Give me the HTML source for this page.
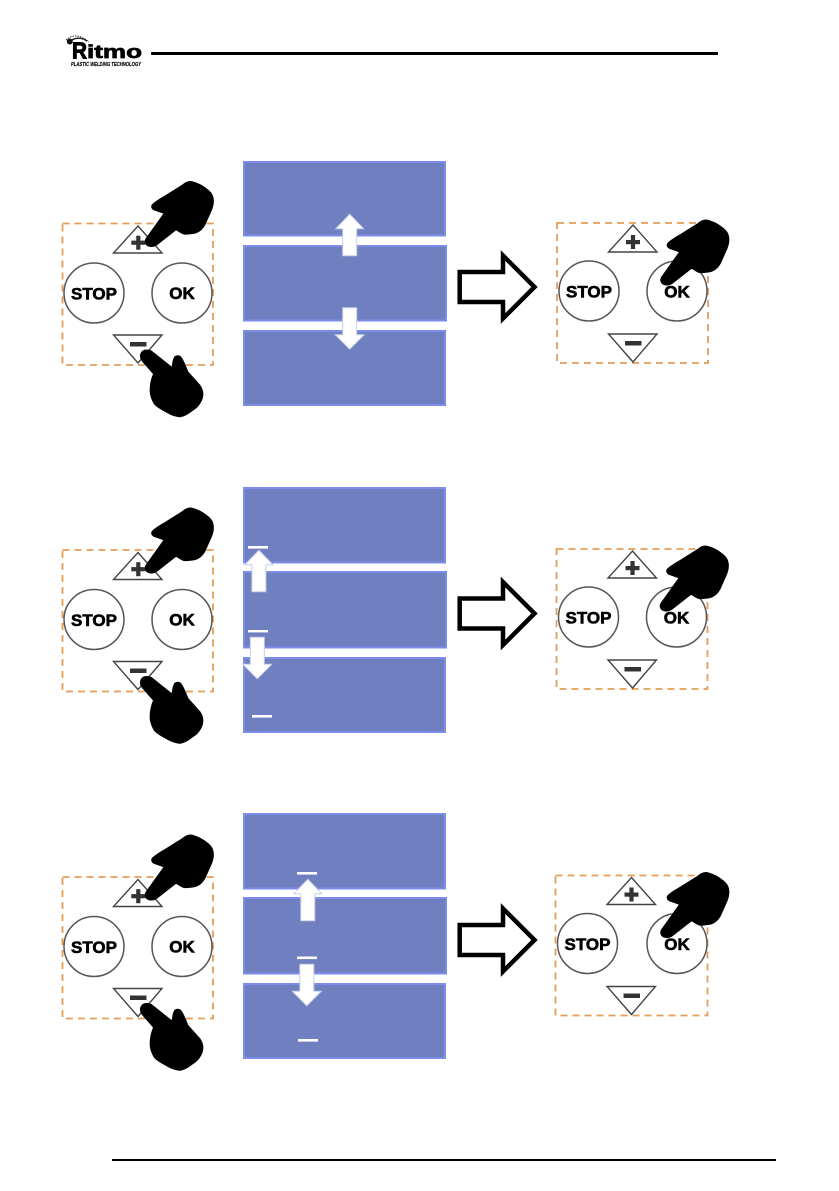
<!DOCTYPE html>
<html>
<head>
<meta charset="utf-8">
<style>
html,body{margin:0;padding:0;background:#fff}
svg{display:block;filter:blur(.3px)}
text{font-family:"Liberation Sans",sans-serif;font-weight:bold}
</style>
</head>
<body>
<svg width="839" height="1191" viewBox="0 0 839 1191" xmlns="http://www.w3.org/2000/svg">
<defs>
<path id="hT" transform="translate(140 175) scale(.3333)" d="M17 190L70 116L42 106C34 102 31 95 36 88C48 76 68 66 85 55L125 30C135 22 142 18 152 18C165 20 178 26 188 32C200 40 212 48 218 60C224 75 222 90 216 105L196 150C188 164 178 172 165 176C152 178 140 180 130 178C122 175 116 170 108 166L52 210C42 218 28 218 19 211C13 204 13 197 17 190Z"/>
<path id="hB" transform="translate(135 340) scale(.3333)" d="M15 46C17 30 32 24 50 32L110 80C112 70 112 60 118 50C124 44 134 44 140 52C148 64 154 80 160 95L196 135C204 147 207 160 204 172C200 188 190 202 174 212C162 221 150 230 135 232C120 230 108 226 98 220C83 212 68 204 58 194C50 182 44 166 44 152C44 132 48 116 54 102L26 70C18 62 14 54 15 46Z"/>
<path id="hO" transform="translate(655.5 213.5) scale(.3333)" d="M17 190L70 116L42 106C34 102 31 95 36 88C48 76 68 66 85 55L125 30C135 22 142 18 152 18C165 20 178 26 188 32C200 40 212 48 218 60C224 75 222 90 216 105L196 150C188 164 178 172 165 176C152 178 140 180 130 178C122 175 116 170 108 166L52 210C42 218 28 218 19 211C13 204 13 197 17 190Z"/>
<polygon id="au" points="0,-41.5 14,-27 7,-27 7,0 -7,0 -7,-27 -14,-27" fill="#fff" stroke="#c6cfe8" stroke-width="1"/>
<polygon id="ad" points="0,41.5 14.5,27 7,27 7,0 -7,0 -7,27 -14.5,27" fill="#fff" stroke="#c6cfe8" stroke-width="1"/>
</defs>

<!-- header -->
<rect x="151" y="52" width="567" height="3" fill="#000"/>
<path d="M66 40Q76 31 89 42" fill="none" stroke="#333" stroke-width="1" stroke-dasharray="1.5 1"/>
<path d="M72 40Q79 36 87 41" fill="none" stroke="#222" stroke-width="1.4"/>
<circle cx="69.8" cy="41.5" r="3" fill="#111"/>
<text x="72" y="58.3" font-size="23" textLength="15" lengthAdjust="spacingAndGlyphs" stroke="#000" stroke-width="1" fill="#000">R</text>
<text x="87" y="58" font-size="18" textLength="55" lengthAdjust="spacingAndGlyphs" stroke="#000" stroke-width=".7" fill="#000">itmo</text>
<text x="71" y="66" font-size="5.6" font-style="italic" textLength="70" lengthAdjust="spacingAndGlyphs" fill="#111" stroke="#111" stroke-width=".2">PLASTIC WELDING TECHNOLOGY</text>

<!-- footer -->
<rect x="112" y="1159" width="664" height="2" fill="#000"/>

<!-- ROW 1 -->
<g>
<rect x="62.5" y="223.5" width="150.5" height="141.5" fill="none" stroke="#e59d58" stroke-width="1.8" stroke-dasharray="7 5"/>
<polygon points="138,226 162,253 113.5,253" fill="#fff" stroke="#444" stroke-width="1.4"/>
<rect x="131.3" y="240.6" width="14" height="4.2" fill="#333"/><rect x="136.2" y="235.7" width="4.2" height="14" fill="#333"/>
<circle cx="94" cy="293" r="30" fill="#fff" stroke="#555" stroke-width="1.5"/>
<circle cx="182" cy="293" r="30" fill="#fff" stroke="#555" stroke-width="1.5"/>
<text x="94" y="299.3" font-size="17" text-anchor="middle" fill="#000" stroke="#000" stroke-width=".6">STOP</text>
<text x="182" y="299" font-size="17" text-anchor="middle" fill="#000" stroke="#000" stroke-width=".6">OK</text>
<polygon points="113.5,335 162,335 138,363" fill="#fff" stroke="#444" stroke-width="1.4"/>
<rect x="130" y="342" width="16.5" height="4.5" fill="#333"/>
<use href="#hT"/><use href="#hB"/>
</g>
<g>
<rect x="557" y="223" width="151" height="140" fill="none" stroke="#e59d58" stroke-width="1.8" stroke-dasharray="7 5"/>
<polygon points="633,225 657,252 608.5,252" fill="#fff" stroke="#444" stroke-width="1.4"/>
<rect x="626" y="240" width="14" height="4.2" fill="#333"/><rect x="630.9" y="235" width="4.2" height="14" fill="#333"/>
<circle cx="589" cy="291" r="30" fill="#fff" stroke="#555" stroke-width="1.5"/>
<circle cx="677" cy="291" r="30" fill="#fff" stroke="#555" stroke-width="1.5"/>
<text x="589" y="297.5" font-size="17" text-anchor="middle" fill="#000" stroke="#000" stroke-width=".6">STOP</text>
<text x="677" y="297.5" font-size="17" text-anchor="middle" fill="#000" stroke="#000" stroke-width=".6">OK</text>
<polygon points="608.5,334 657,334 633,362" fill="#fff" stroke="#444" stroke-width="1.4"/>
<rect x="625" y="341" width="16.5" height="4.5" fill="#333"/>
<use href="#hO"/>
</g>
<g fill="#707fbf" stroke="#7b8ceb" stroke-width="2">
<rect x="244" y="162" width="201" height="73.5"/>
<rect x="244" y="246" width="202" height="74.5"/>
<rect x="244" y="331" width="201" height="74"/>
</g>
<use href="#au" x="349.7" y="255.7"/>
<use href="#ad" x="349.7" y="307.7"/>
<polygon points="459.7,272 503,272 503,255.5 534.5,287 503,318.5 503,302 459.7,302" fill="#fff" stroke="#000" stroke-width="4.5"/>

<!-- ROW 2 -->
<g transform="translate(0 326.5)">
<rect x="62.5" y="223.5" width="150.5" height="141.5" fill="none" stroke="#e59d58" stroke-width="1.8" stroke-dasharray="7 5"/>
<polygon points="138,226 162,253 113.5,253" fill="#fff" stroke="#444" stroke-width="1.4"/>
<rect x="131.3" y="240.6" width="14" height="4.2" fill="#333"/><rect x="136.2" y="235.7" width="4.2" height="14" fill="#333"/>
<circle cx="94" cy="293" r="30" fill="#fff" stroke="#555" stroke-width="1.5"/>
<circle cx="182" cy="293" r="30" fill="#fff" stroke="#555" stroke-width="1.5"/>
<text x="94" y="299.3" font-size="17" text-anchor="middle" fill="#000" stroke="#000" stroke-width=".6">STOP</text>
<text x="182" y="299" font-size="17" text-anchor="middle" fill="#000" stroke="#000" stroke-width=".6">OK</text>
<polygon points="113.5,335 162,335 138,363" fill="#fff" stroke="#444" stroke-width="1.4"/>
<rect x="130" y="342" width="16.5" height="4.5" fill="#333"/>
<use href="#hT"/><use href="#hB"/>
</g>
<g transform="translate(-0.5 326)">
<rect x="557" y="223" width="151" height="140" fill="none" stroke="#e59d58" stroke-width="1.8" stroke-dasharray="7 5"/>
<polygon points="633,225 657,252 608.5,252" fill="#fff" stroke="#444" stroke-width="1.4"/>
<rect x="626" y="240" width="14" height="4.2" fill="#333"/><rect x="630.9" y="235" width="4.2" height="14" fill="#333"/>
<circle cx="589" cy="291" r="30" fill="#fff" stroke="#555" stroke-width="1.5"/>
<circle cx="677" cy="291" r="30" fill="#fff" stroke="#555" stroke-width="1.5"/>
<text x="589" y="297.5" font-size="17" text-anchor="middle" fill="#000" stroke="#000" stroke-width=".6">STOP</text>
<text x="677" y="297.5" font-size="17" text-anchor="middle" fill="#000" stroke="#000" stroke-width=".6">OK</text>
<polygon points="608.5,334 657,334 633,362" fill="#fff" stroke="#444" stroke-width="1.4"/>
<rect x="625" y="341" width="16.5" height="4.5" fill="#333"/>
<use href="#hO"/>
</g>
<g fill="#707fbf" stroke="#7b8ceb" stroke-width="2">
<rect x="244" y="488" width="201" height="74.5"/>
<rect x="244" y="572" width="202" height="75.5"/>
<rect x="244" y="658" width="201" height="74"/>
</g>
<use href="#au" x="258.9" y="591.7"/>
<use href="#ad" x="257.3" y="637.3"/>
<g fill="#fff">
<rect x="248" y="546" width="20" height="2.6"/>
<rect x="248" y="630" width="20" height="2.4"/>
<rect x="252" y="715" width="20" height="2.6"/>
</g>
<polygon points="459.7,272 503,272 503,255.5 534.5,287 503,318.5 503,302 459.7,302" fill="#fff" stroke="#000" stroke-width="4.5" transform="translate(0 326.5)"/>

<!-- ROW 3 -->
<g transform="translate(0 653.5)">
<rect x="62.5" y="223.5" width="150.5" height="141.5" fill="none" stroke="#e59d58" stroke-width="1.8" stroke-dasharray="7 5"/>
<polygon points="138,226 162,253 113.5,253" fill="#fff" stroke="#444" stroke-width="1.4"/>
<rect x="131.3" y="240.6" width="14" height="4.2" fill="#333"/><rect x="136.2" y="235.7" width="4.2" height="14" fill="#333"/>
<circle cx="94" cy="293" r="30" fill="#fff" stroke="#555" stroke-width="1.5"/>
<circle cx="182" cy="293" r="30" fill="#fff" stroke="#555" stroke-width="1.5"/>
<text x="94" y="299.3" font-size="17" text-anchor="middle" fill="#000" stroke="#000" stroke-width=".6">STOP</text>
<text x="182" y="299" font-size="17" text-anchor="middle" fill="#000" stroke="#000" stroke-width=".6">OK</text>
<polygon points="113.5,335 162,335 138,363" fill="#fff" stroke="#444" stroke-width="1.4"/>
<rect x="130" y="342" width="16.5" height="4.5" fill="#333"/>
<use href="#hT"/><use href="#hB"/>
</g>
<g transform="translate(-1.5 652.5)">
<rect x="557" y="223" width="152" height="140" fill="none" stroke="#e59d58" stroke-width="1.8" stroke-dasharray="7 5"/>
<polygon points="633,225 657,252 608.5,252" fill="#fff" stroke="#444" stroke-width="1.4"/>
<rect x="626" y="240" width="14" height="4.2" fill="#333"/><rect x="630.9" y="235" width="4.2" height="14" fill="#333"/>
<circle cx="589" cy="291" r="30" fill="#fff" stroke="#555" stroke-width="1.5"/>
<circle cx="678.5" cy="291" r="30" fill="#fff" stroke="#555" stroke-width="1.5"/>
<text x="589" y="297.5" font-size="17" text-anchor="middle" fill="#000" stroke="#000" stroke-width=".6">STOP</text>
<text x="678.5" y="297.5" font-size="17" text-anchor="middle" fill="#000" stroke="#000" stroke-width=".6">OK</text>
<polygon points="608.5,334 657,334 633,362" fill="#fff" stroke="#444" stroke-width="1.4"/>
<rect x="625" y="341" width="16.5" height="4.5" fill="#333"/>
<use href="#hO" x="1.5"/>
</g>
<g fill="#707fbf" stroke="#7b8ceb" stroke-width="2">
<rect x="244" y="814" width="201" height="74.5"/>
<rect x="244" y="898" width="202" height="75.5"/>
<rect x="244" y="984" width="201" height="74"/>
</g>
<use href="#au" x="307.8" y="920.7"/>
<use href="#ad" x="306.8" y="964.3"/>
<g fill="#fff">
<rect x="297" y="872" width="20" height="2.6"/>
<rect x="297" y="956.5" width="20" height="2.6"/>
<rect x="298" y="1039" width="20" height="2.6"/>
</g>
<polygon points="459.7,272 503,272 503,255.5 534.5,287 503,318.5 503,302 459.7,302" fill="#fff" stroke="#000" stroke-width="4.5" transform="translate(0 653)"/>
</svg>
</body>
</html>
